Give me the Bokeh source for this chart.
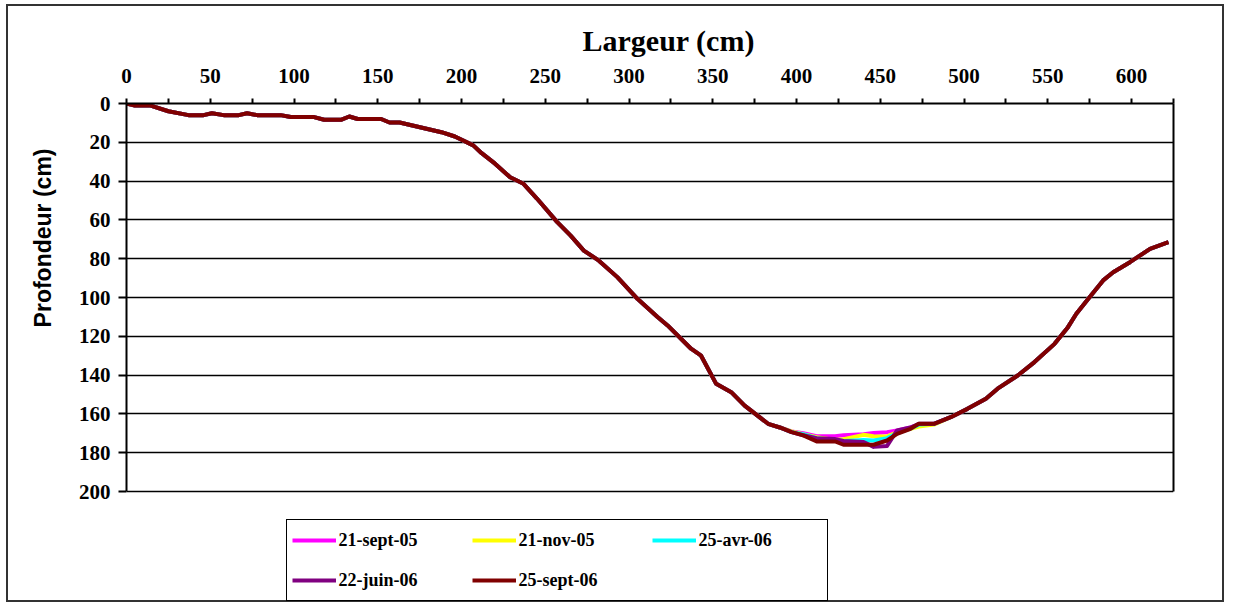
from bokeh.plotting import figure
from bokeh.models import Range1d, FixedTicker, Legend, LegendItem, Title, LinearAxis
from bokeh.embed import file_html
from bokeh.resources import INLINE

# ---- data ----
x_left = [0, 5, 14, 25, 37, 46, 51, 58, 67, 72, 78, 92, 98, 112, 118, 128, 133, 138,
          152, 157, 163, 188, 196, 207, 212, 220, 229, 237, 245, 257, 265, 273, 282,
          293, 305, 317, 323, 337, 343, 352, 361, 369, 383, 390]
depth_left = [0, 1, 1, 4, 6, 6, 5, 6, 6, 5, 6, 6, 7, 7, 8.4, 8.4, 6.7, 8,
              8, 9.8, 9.8, 14.8, 17, 21.6, 25.6, 31, 38, 41.4, 49, 61, 68, 75.8, 81,
              89.5, 100.7, 110, 114.4, 126.4, 130, 144.5, 148.8, 155.7, 165.1, 167]

x_bottom = [397, 404, 412, 423, 428, 440, 446, 454, 460, 468, 473, 482]
depth_21_sept_05 = [169.0, 170.0, 171.5, 171.5, 171.0, 170.5, 169.8, 169.4, 168.5, 167.0, 165.5, 165.1]
depth_21_nov_05 = [169.0, 170.5, 172.0, 173.5, 173.0, 170.8, 171.5, 171.6, 169.5, 167.7, 166.5, 165.5]
depth_25_avr_06 = [169.4, 170.5, 172.5, 173.5, 174.0, 173.5, 173.7, 172.5, 170.0, 167.5, 165.5, 165.1]
depth_22_juin_06 = [169.4, 171.0, 172.5, 173.0, 174.0, 174.5, 177.0, 176.5, 168.5, 167.0, 165.1, 165.1]
depth_25_sept_06 = [169.4, 171.1, 174.2, 174.2, 175.9, 175.9, 175.9, 173.7, 170.3, 167.7, 165.1, 165.1]

x_right = [492, 502, 513, 520, 532, 542, 554, 562, 567, 575, 583, 589, 599, 611, 622]
depth_right = [161.7, 157.4, 152.2, 147, 140.2, 133.3, 123.9, 115.3, 108.4, 99.8, 91.2, 87, 81.8, 74.9, 71.5]

series_labels = ["21-sept-05", "21-nov-05", "25-avr-06", "22-juin-06", "25-sept-06"]
series_bottoms = [depth_21_sept_05, depth_21_nov_05, depth_25_avr_06, depth_22_juin_06, depth_25_sept_06]
series_colors = ["#FF00FF", "#FFFF00", "#00FFFF", "#800080", "#800000"]

x_ticks = [0, 50, 100, 150, 200, 250, 300, 350, 400, 450, 500, 550, 600]
x_minor_ticks = [25, 75, 125, 175, 225, 275, 325, 375, 425, 475, 525, 575, 625]
y_ticks = [0, 20, 40, 60, 80, 100, 120, 140, 160, 180, 200]
y_max = 200

# ---- figure ----
# frame extends to the bottom of the canvas so the legend (drawn inside the frame) is not clipped;
# the data area 0..200 occupies the top 388 px of the frame.
CANVAS_H = 598
TOP = 97
PX_PER_UNIT = 388 / y_max
y_bottom_value = (CANVAS_H - TOP) / PX_PER_UNIT

p = figure(width=1218, height=CANVAS_H, output_backend="svg", toolbar_location=None,
           x_range=Range1d(0, 625), y_range=Range1d(y_bottom_value, 0),
           x_axis_location="above",
           min_border_left=118, min_border_right=53, min_border_top=TOP, min_border_bottom=0)
p.styles = {"border": "2px solid #333333", "margin": "4px 0px 0px 6px"}
p.background_fill_color = "white"
p.border_fill_color = "white"
p.outline_line_color = None

p.title = Title(text="Largeur (cm)", align="left", offset=456, standoff=18,
                text_font="Liberation Serif", text_font_style="bold",
                text_font_size="30px", text_color="black")

tick_font = "Liberation Serif"

xa = p.xaxis[0]
xa.ticker = FixedTicker(ticks=x_ticks, minor_ticks=x_minor_ticks)
xa.major_tick_out = 5
xa.major_tick_in = 0
xa.minor_tick_out = 5
xa.minor_tick_in = 0
xa.major_tick_line_width = 2
xa.minor_tick_line_width = 2
xa.axis_line_width = 2
xa.axis_line_color = "black"
xa.major_label_text_font = tick_font
xa.major_label_text_font_style = "bold"
xa.major_label_text_font_size = "21px"
xa.major_label_text_color = "black"
xa.major_label_standoff = 16

ya = p.yaxis[0]
ya.ticker = FixedTicker(ticks=y_ticks)
ya.bounds = (0, y_max)
ya.major_tick_out = 8
ya.major_tick_in = 0
ya.minor_tick_out = 0
ya.minor_tick_in = 0
ya.major_tick_line_width = 2
ya.axis_line_width = 2
ya.axis_line_color = "black"
ya.major_label_text_font = tick_font
ya.major_label_text_font_style = "bold"
ya.major_label_text_font_size = "21px"
ya.major_label_text_color = "black"
ya.major_label_standoff = 8

# right border of the plot area
ra = LinearAxis(ticker=FixedTicker(ticks=[]), bounds=(0, y_max),
                axis_line_width=2, axis_line_color="black",
                major_tick_out=0, major_tick_in=0, minor_tick_out=0, minor_tick_in=0,
                major_label_text_font_size="0px")
p.add_layout(ra, "right")

p.add_layout(Title(text="Profondeur (cm)", align="right", offset=45, standoff=36,
                   vertical_align="top",
                   text_font="Liberation Sans", text_font_style="bold",
                   text_font_size="23px", text_color="black"), "left")

p.xgrid.visible = False
p.ygrid.ticker = FixedTicker(ticks=y_ticks)
p.ygrid.grid_line_color = "black"
p.ygrid.grid_line_width = 1.7

items = []
for lab, bottom, col in zip(series_labels, series_bottoms, series_colors):
    xs = x_left + x_bottom + x_right
    ys = depth_left + bottom + depth_right
    r = p.line(xs, ys, line_color=col, line_width=4, line_join="round")
    items.append(LegendItem(label=lab, renderers=[r]))

legend = Legend(items=items, location=(159.5, 3), orientation="horizontal", ncols=3,
                glyph_width=44, glyph_height=20, label_height=30, label_width=123,
                label_standoff=3, spacing=10, padding=5, margin=0,
                border_line_color="black", border_line_width=1.5, border_line_alpha=1,
                background_fill_color="white", background_fill_alpha=1,
                label_text_font="Liberation Serif", label_text_font_style="bold",
                label_text_font_size="18px", label_text_color="black")
p.add_layout(legend)

open("out.html", "w").write(file_html(p, INLINE))
